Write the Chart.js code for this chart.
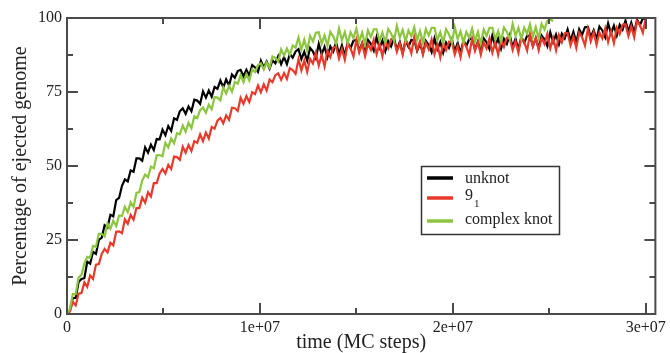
<!DOCTYPE html>
<html><head><meta charset="utf-8">
<script src="https://cdn.jsdelivr.net/npm/chart.js@4.4.1/dist/chart.umd.min.js"></script>
<style>html,body{margin:0;padding:0;background:#fff;overflow:hidden;} canvas{display:block;}</style>
</head><body>
<canvas id="c" width="670" height="353"></canvas>
<script>
// sampling times, in millions of MC steps
const timeMillions = [
0,0.15,0.3,0.45,0.6,0.75,0.9,1.05,1.2,1.35,
1.5,1.65,1.8,1.95,2.1,2.25,2.4,2.55,2.7,2.85,
3,3.15,3.3,3.45,3.6,3.75,3.9,4.05,4.2,4.35,
4.5,4.65,4.8,4.95,5.1,5.25,5.4,5.55,5.7,5.85,
6,6.15,6.3,6.45,6.6,6.75,6.9,7.05,7.2,7.35,
7.5,7.65,7.8,7.95,8.1,8.25,8.4,8.55,8.7,8.85,
9,9.15,9.3,9.45,9.6,9.75,9.9,10.05,10.2,10.35,
10.5,10.65,10.8,10.95,11.1,11.25,11.4,11.55,11.7,11.85,
12,12.15,12.3,12.45,12.6,12.75,12.9,13.05,13.2,13.35,
13.5,13.65,13.8,13.95,14.1,14.25,14.4,14.55,14.7,14.85,
15,15.15,15.3,15.45,15.6,15.75,15.9,16.05,16.2,16.35,
16.5,16.65,16.8,16.95,17.1,17.25,17.4,17.55,17.7,17.85,
18,18.15,18.3,18.45,18.6,18.75,18.9,19.05,19.2,19.35,
19.5,19.65,19.8,19.95,20.1,20.25,20.4,20.55,20.7,20.85,
21,21.15,21.3,21.45,21.6,21.75,21.9,22.05,22.2,22.35,
22.5,22.65,22.8,22.95,23.1,23.25,23.4,23.55,23.7,23.85,
24,24.15,24.3,24.45,24.6,24.75,24.9,25.05,25.2,25.35,
25.5,25.65,25.8,25.95,26.1,26.25,26.4,26.55,26.7,26.85,
27,27.15,27.3,27.45,27.6,27.75,27.9,28.05,28.2,28.35,
28.5,28.65,28.8,28.95,29.1,29.25,29.4,29.55,29.7,29.85,
30];

const unknot = [
0,1.2,5.4,5.4,10.8,11.8,12.1,17.7,17.0,21.0,
20.3,25.0,25.8,30.0,29.2,33.5,33.0,38.5,39.2,43.3,
45.5,44.8,48.5,48.1,52.6,52.6,51.8,56.3,54.5,57.2,
55.4,59.1,59.0,62.3,60.4,63.5,61.9,66.1,65.6,68.5,
69.5,67.6,70.1,68.5,72.4,72.1,71.0,75.2,73.1,75.5,
73.4,76.7,76.1,78.9,76.6,79.3,77.2,80.9,79.8,82.1,
82.5,80.3,82.5,80.6,84.1,83.3,81.8,85.6,83.2,85.3,
82.9,85.7,84.7,87.1,84.4,86.8,84.4,87.8,86.6,88.7,
89.5,86.1,88.6,85.6,89.9,88.7,86.4,91.2,87.7,90.3,
86.8,90.4,88.7,91.7,87.8,90.8,87.3,91.7,89.8,92.4,
92.5,89.0,91.5,88.3,92.6,91.3,89.0,93.6,90.0,92.4,
88.8,92.2,90.4,93.2,89.2,91.9,88.2,92.4,90.3,92.6,
92.5,88.9,91.3,88.1,92.3,90.9,88.5,93.1,89.5,91.9,
88.3,91.7,89.9,92.7,88.8,91.6,88.1,92.4,90.5,92.9,
93.0,89.5,92.0,88.8,93.1,91.8,89.5,94.1,90.6,93.1,
89.6,93.0,91.3,94.2,90.2,93.0,89.4,93.6,91.6,94.0,
94.0,90.5,93.0,89.8,94.1,92.8,90.5,95.2,91.8,94.4,
91.1,94.7,93.1,96.1,92.3,95.3,91.8,96.2,94.3,96.9,
97.0,93.5,95.9,92.8,97.1,95.8,93.5,98.2,94.8,97.4,
94.1,97.7,96.1,99.1,95.4,98.4,95.1,99.4,97.6,99.9,
99.5];

const knot91 = [
0,0.8,4.1,2.9,6.9,7.1,10.7,9.2,13.0,11.9,
16.7,16.9,20.3,22.0,20.8,24.1,23.2,27.8,27.9,27.3,
32.0,30.5,33.5,31.9,35.8,35.8,39.3,37.6,41.1,39.7,
44.2,44.2,47.5,49.0,47.5,50.4,49.0,53.2,53.0,52.1,
56.5,54.5,57.1,55.1,58.4,57.8,60.7,58.4,61.3,59.3,
63.2,62.6,65.3,66.2,64.4,67.1,65.6,69.7,69.5,68.6,
73.0,71.0,73.6,71.6,74.9,74.3,77.2,74.9,77.6,75.5,
79.2,78.3,80.7,81.3,79.1,81.4,79.4,83.0,82.4,81.1,
86.1,82.3,85.6,81.8,86.2,84.6,88.3,83.9,87.6,83.6,
88.9,86.8,90.0,90.3,86.3,89.5,85.9,91.3,89.7,87.0,
92.6,88.4,91.4,87.1,91.2,89.2,92.6,87.8,91.3,87.1,
92.2,89.8,92.8,92.9,88.6,91.5,87.6,92.7,91.0,88.1,
93.6,89.2,92.1,87.7,91.6,89.4,92.7,87.8,91.1,86.7,
91.7,89.2,92.0,91.9,87.7,90.6,86.8,92.0,90.4,87.5,
93.1,88.9,91.9,87.6,91.7,89.7,93.1,88.3,91.8,87.6,
92.7,90.3,93.3,93.4,89.2,92.1,88.3,93.5,91.9,89.0,
94.6,90.4,93.4,89.1,93.2,91.2,94.6,89.8,93.3,89.1,
94.2,91.8,94.8,94.9,90.7,93.7,89.9,95.1,93.5,90.7,
96.3,92.1,95.2,91.0,95.1,93.1,96.5,91.9,95.5,91.5,
96.7,94.6,97.7,97.9,93.9,97.1,93.5,98.9,97.6,95.0,
99.8];

const complexKnot = [
0,1.7,6.7,6.7,12.3,13.2,17.1,19.3,19.0,23.0,
22.7,27.1,27.1,26.2,30.6,28.8,31.5,29.7,33.3,33.1,
36.2,34.4,37.7,36.2,40.9,41.2,45.1,47.1,46.2,49.8,
49.2,53.6,53.7,53.3,57.8,56.3,59.3,57.7,61.1,60.7,
63.7,61.6,64.6,62.8,66.8,66.2,68.9,69.8,68.0,70.7,
69.2,73.3,73.1,72.2,76.5,74.5,77.1,75.1,78.4,77.8,
80.7,78.3,81.0,78.9,82.6,81.7,84.1,84.7,82.6,85.0,
83.2,87.0,86.5,85.3,89.4,87.3,89.7,87.6,90.7,90.0,
93.4,89.3,92.7,89.0,94.0,92.1,95.0,95.2,91.3,94.1,
90.7,95.3,93.8,91.3,96.5,92.5,95.2,91.4,95.2,93.2,
96.4,92.0,95.1,91.1,95.8,93.6,96.2,96.2,92.3,95.1,
91.7,96.3,94.8,92.3,97.4,93.4,96.0,92.1,95.8,93.8,
96.9,92.5,95.6,91.6,96.3,94.1,96.7,96.7,92.6,95.2,
91.7,96.2,94.5,91.8,96.9,92.9,95.5,91.6,95.3,93.3,
96.4,92.1,95.3,91.3,96.1,94.0,96.7,96.7,92.8,95.6,
92.2,96.8,95.3,92.8,98.0,94.0,96.7,92.9,96.7,94.7,
97.9,93.7,96.9,93.1,98.0,96.1,99.0,99.5,99.0];

const seriesNames = ['unknot', '9', 'complex knot'];
const seriesSubscripts = ['', '1', ''];
const seriesColors = ['#000000', '#e8392a', '#8cc63f'];
const xTickValues = [0, 1e7, 2e7, 3e7];
const xTickLabels = ['0', '1e+07', '2e+07', '3e+07'];
const xMinorTicks = [5e6, 1.5e7, 2.5e7];
const yTickValues = [0, 25, 50, 75, 100];
const yTickLabels = ['0', '25', '50', '75', '100'];
const yMinorTicks = [12.5, 37.5, 62.5, 87.5];

const FONT = '"Liberation Serif", "Times New Roman", serif';
const toPoints = arr => arr.map((v, i) => ({x: timeMillions[i] * 1e6, y: v}));

const frameTicks = {
  id: 'frameTicks',
  beforeDraw(chart) {
    const ctx = chart.ctx;
    ctx.save(); ctx.fillStyle = '#fff'; ctx.fillRect(0, 0, chart.width, chart.height); ctx.restore();
  },
  afterDatasetsDraw(chart) {
    const {ctx, chartArea: a, scales} = chart;
    const xs = scales.x, ys = scales.y;
    ctx.save();
    ctx.strokeStyle = '#4a4a4a';
    ctx.lineWidth = 2;
    ctx.strokeRect(a.left, a.top, a.right - a.left, a.bottom - a.top);
    const drawX = (v, len) => {
      const px = Math.round(xs.getPixelForValue(v));
      ctx.beginPath(); ctx.moveTo(px, a.bottom); ctx.lineTo(px, a.bottom - len); ctx.stroke();
      ctx.beginPath(); ctx.moveTo(px, a.top); ctx.lineTo(px, a.top + len); ctx.stroke();
    };
    const drawY = (v, len) => {
      const py = Math.round(ys.getPixelForValue(v));
      ctx.beginPath(); ctx.moveTo(a.left, py); ctx.lineTo(a.left + len, py); ctx.stroke();
      ctx.beginPath(); ctx.moveTo(a.right, py); ctx.lineTo(a.right - len, py); ctx.stroke();
    };
    xTickValues.forEach(v => drawX(v, 11));
    xMinorTicks.forEach(v => drawX(v, 6));
    yTickValues.forEach(v => drawY(v, 11));
    yMinorTicks.forEach(v => drawY(v, 6));
    ctx.restore();
  },
  afterDraw(chart) {
    const ctx = chart.ctx;
    ctx.save();
    ctx.fillStyle = '#fff';
    ctx.fillRect(421.5, 166.5, 138, 68);
    ctx.strokeStyle = '#333';
    ctx.lineWidth = 1.5;
    ctx.strokeRect(421.5, 166.5, 138, 68);
    const rows = [178, 198, 221];
    const textY = [179, 196, 220];
    seriesNames.forEach((name, i) => {
      ctx.strokeStyle = seriesColors[i];
      ctx.lineWidth = 3.5;
      ctx.beginPath(); ctx.moveTo(427, rows[i]); ctx.lineTo(453, rows[i]); ctx.stroke();
      ctx.fillStyle = '#222';
      ctx.font = '16px ' + FONT;
      ctx.textBaseline = 'middle';
      ctx.textAlign = 'left';
      ctx.fillText(name, 465, textY[i]);
      if (seriesSubscripts[i]) {
        const w = ctx.measureText(name).width;
        ctx.font = '11px ' + FONT;
        ctx.fillText(seriesSubscripts[i], 465 + w + 1, textY[i] + 8);
      }
    });
    ctx.restore();
  }
};

new Chart(document.getElementById('c'), {
  type: 'line',
  data: {
    datasets: [
      {label: seriesNames[0], data: toPoints(unknot), borderColor: seriesColors[0], order: 2},
      {label: seriesNames[1] + seriesSubscripts[1], data: toPoints(knot91), borderColor: seriesColors[1], order: 1},
      {label: seriesNames[2], data: toPoints(complexKnot), borderColor: seriesColors[2], order: 0}
    ]
  },
  options: {
    responsive: false,
    animation: false,
    devicePixelRatio: 1,
    layout: {padding: {left: 0, right: 12, top: 18, bottom: 0}},
    elements: {
      point: {radius: 0},
      line: {borderWidth: 2.2, tension: 0, borderJoinStyle: 'miter'}
    },
    plugins: {legend: {display: false}, tooltip: {enabled: false}},
    scales: {
      x: {
        type: 'linear', min: 0, max: 3.05e7,
        grid: {display: false, drawTicks: false},
        border: {display: false},
        afterFit(s) { s.height = 39; },
        afterBuildTicks(s) { s.ticks = xTickValues.map(v => ({value: v})); },
        ticks: {
          padding: 4, maxRotation: 0, autoSkip: false,
          color: '#222', font: {family: FONT, size: 16},
          callback: (v) => { const i = xTickValues.indexOf(v); return i >= 0 ? xTickLabels[i] : ''; }
        },
        title: {display: true, text: 'time (MC steps)', color: '#222',
          font: {family: FONT, size: 20, lineHeight: 1}, padding: {top: 0, bottom: 0}}
      },
      y: {
        type: 'linear', min: 0, max: 100,
        grid: {display: false, drawTicks: false},
        border: {display: false},
        afterFit(s) { s.width = 67; },
        afterBuildTicks(s) { s.ticks = yTickValues.map(v => ({value: v})); },
        ticks: {
          padding: 5, color: '#222', font: {family: FONT, size: 16},
          callback: (v) => { const i = yTickValues.indexOf(v); return i >= 0 ? yTickLabels[i] : ''; }
        },
        title: {display: true, text: 'Percentage of ejected genome', color: '#222',
          font: {family: FONT, size: 20, lineHeight: 1}, padding: {top: 11, bottom: 0}}
      }
    }
  },
  plugins: [frameTicks]
});
</script>
</body></html>
